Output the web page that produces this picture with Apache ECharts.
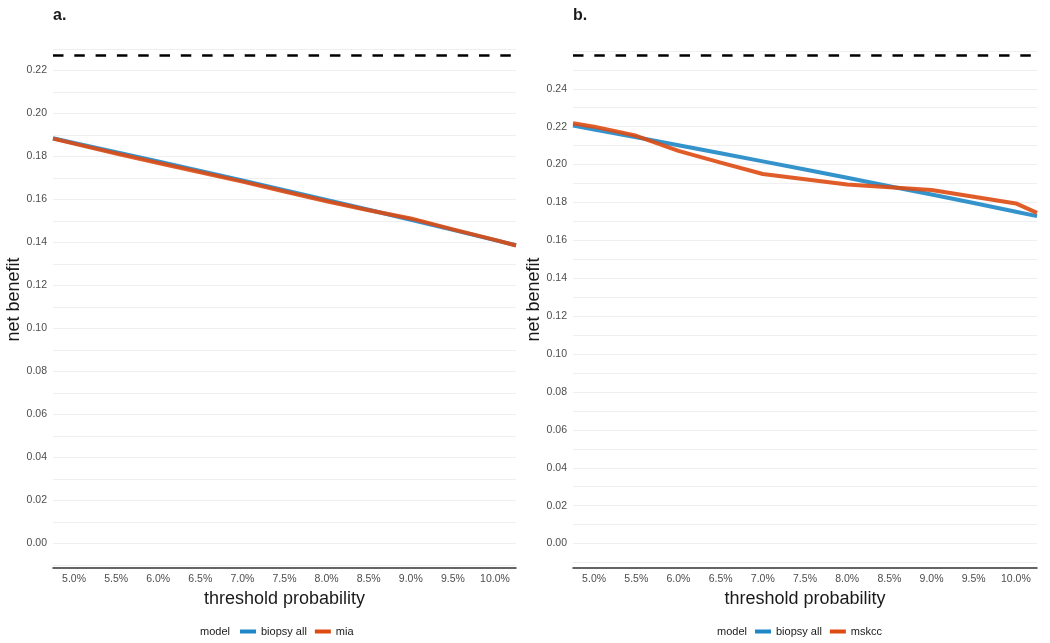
<!DOCTYPE html>
<html>
<head>
<meta charset="utf-8">
<script src="https://cdn.jsdelivr.net/npm/echarts@6/dist/echarts.min.js"></script>
<style>
html,body{margin:0;padding:0;background:#fff;}
#chart{width:1050px;height:643px;}
</style>
</head>
<body>
<div id="chart"></div>
<script>
// threshold probability (%)
const thresholds = [4.75, 5.0, 5.5, 6.0, 6.5, 7.0, 7.5, 8.0, 8.5, 9.0, 9.5, 10.0, 10.25];
// panel a
const biopsyAllA = [0.1885, 0.1863, 0.1820, 0.1777, 0.1733, 0.1688, 0.1643, 0.1598, 0.1552, 0.1506, 0.1459, 0.1411, 0.1387];
const miaA       = [0.1883, 0.1860, 0.1814, 0.1770, 0.1727, 0.1683, 0.1637, 0.1592, 0.1550, 0.1512, 0.1461, 0.1412, 0.1386];
const refLineA = 0.227;
// panel b
const biopsyAllB = [0.2206, 0.2185, 0.2144, 0.2102, 0.2060, 0.2017, 0.1974, 0.1930, 0.1886, 0.1842, 0.1797, 0.1751, 0.1728];
const mskccB     = [0.2218, 0.2200, 0.2152, 0.2072, 0.2010, 0.1950, 0.1923, 0.1895, 0.1880, 0.1866, 0.1830, 0.1795, 0.1745];
const refLineB = 0.2576;
// axis limits
const xRange = [4.75, 10.25];
const yRangeA = [-0.01135, 0.23835];
const yRangeB = [-0.01288, 0.27048];
// labelled tick range and gridline range
const yLabelMaxA = 0.22, yLabelMaxB = 0.24;
const gridLinesA = [-0.01, 0.23];
const gridLinesB = [-0.01, 0.26];
const panelTitles = ['a.', 'b.'];
const legendNamesA = ['biopsy all', 'mia'];
const legendNamesB = ['biopsy all', 'mskcc'];

const BLUE = '#1f87c6';
const ORANGE = '#dd4a12';

function pairs(xs, ys){ return xs.map((x,i)=>[x, ys[i]]); }
function isMult(v, step){ const r = v/step; return Math.abs(r - Math.round(r)) < 1e-6; }

const font = 'Liberation Sans, Arial, sans-serif';
const PLOT_TOP = 31, PLOT_H = 537;
const plotA = {left: 53, width: 463}, plotB = {left: 573, width: 464};

function subRect(plot, range, sub){
  const span = range[1] - range[0];
  const bottom = PLOT_TOP + PLOT_H;
  const yTop = bottom - (sub[1] - range[0]) / span * PLOT_H;
  const yBot = bottom - (sub[0] - range[0]) / span * PLOT_H;
  return {left: plot.left, width: plot.width, top: yTop, height: yBot - yTop};
}

function xAxisFor(gi){
  return {
    type:'value', gridIndex: gi, min: xRange[0], max: xRange[1],
    minInterval: 0.5, maxInterval: 0.5, splitNumber: 11,
    name: 'threshold probability', nameLocation: 'middle', nameGap: 10,
    nameTextStyle: {fontFamily: font, fontSize: 18, color: '#1a1a1a'},
    axisLine: {show: true, onZero: false, lineStyle: {color: '#333', width: 1.5}},
    axisTick: {show: false},
    splitLine: {show: false},
    axisLabel: {fontFamily: font, fontSize: 10.5, color: '#4d4d4d', margin: 6,
      formatter: v => isMult(v, 0.5) ? v.toFixed(1) + '%' : ''},
    z: 5
  };
}
function hiddenX(gi){
  return {type:'value', gridIndex: gi, min: xRange[0], max: xRange[1], show: false,
    splitLine: {show: false}, axisLine: {show: false}};
}
function yAxisFor(gi, range, labelMax){
  return {
    type:'value', gridIndex: gi, min: range[0], max: range[1],
    minInterval: 0.02, maxInterval: 0.02, splitNumber: 13,
    name: 'net benefit', nameLocation: 'middle', nameGap: 29,
    nameTextStyle: {fontFamily: font, fontSize: 18, color: '#1a1a1a'},
    axisLine: {show: false}, axisTick: {show: false},
    splitLine: {show: false},
    axisLabel: {fontFamily: font, fontSize: 10.5, color: '#4d4d4d', margin: 6,
      formatter: v => (isMult(v, 0.02) && v <= labelMax + 1e-9) ? v.toFixed(2) : ''}
  };
}
function gridY(gi, sub){
  return {
    type:'value', gridIndex: gi, min: sub[0], max: sub[1],
    minInterval: 0.01, maxInterval: 0.01, splitNumber: 30,
    axisLine: {show: false}, axisTick: {show: false}, axisLabel: {show: false},
    splitLine: {show: true, lineStyle: {color: '#efefef', width: 1}}
  };
}
function dashed(v){
  return {
    silent: true, symbol: ['none','none'], label: {show: false}, precision: 6,
    lineStyle: {color: '#000', width: 2.6, type: [10.5, 10.8]},
    emphasis: {disabled: true},
    data: [{yAxis: v}]
  };
}
function lineSeries(name, xi, yi, data, color, extra){
  return Object.assign({
    type: 'line', name: name, xAxisIndex: xi, yAxisIndex: yi,
    data: data, showSymbol: false, symbol: 'none', clip: true,
    lineStyle: {color: color, width: 4, opacity: 0.9, cap: 'butt', join: 'round'},
    itemStyle: {color: color},
    emphasis: {disabled: true}, animation: false, z: 3
  }, extra || {});
}

const chart = echarts.init(document.getElementById('chart'), null, {renderer: 'canvas'});
chart.setOption({
  backgroundColor: '#fff',
  animation: false,
  title: [
    {text: panelTitles[0], left: 53, top: 8, padding: 0, textStyle: {fontFamily: font, fontSize: 16, fontWeight: 'bold', color: '#1a1a1a'}},
    {text: panelTitles[1], left: 573, top: 8, padding: 0, textStyle: {fontFamily: font, fontSize: 16, fontWeight: 'bold', color: '#1a1a1a'}},
    {text: 'model', left: 200, top: 626, padding: 0, textStyle: {fontFamily: font, fontSize: 11, fontWeight: 'normal', color: '#1a1a1a'}},
    {text: 'model', left: 717, top: 626, padding: 0, textStyle: {fontFamily: font, fontSize: 11, fontWeight: 'normal', color: '#1a1a1a'}}
  ],
  legend: [
    {data: legendNamesA.map((n,i)=>({name: n, itemStyle: {color: i ? ORANGE : BLUE}})), left: 240, top: 626, padding: 0, itemGap: 8,
     icon: 'rect', itemWidth: 16, itemHeight: 4, selectedMode: false,
     textStyle: {fontFamily: font, fontSize: 11, color: '#1a1a1a'}},
    {data: legendNamesB.map((n,i)=>({name: n, itemStyle: {color: i ? ORANGE : BLUE}})), left: 755, top: 626, padding: 0, itemGap: 8,
     icon: 'rect', itemWidth: 16, itemHeight: 4, selectedMode: false,
     textStyle: {fontFamily: font, fontSize: 11, color: '#1a1a1a'}}
  ],
  grid: [
    Object.assign({top: PLOT_TOP, height: PLOT_H}, plotA),
    Object.assign({top: PLOT_TOP, height: PLOT_H}, plotB),
    subRect(plotA, yRangeA, gridLinesA),
    subRect(plotB, yRangeB, gridLinesB)
  ],
  xAxis: [xAxisFor(0), xAxisFor(1), hiddenX(2), hiddenX(3)],
  yAxis: [yAxisFor(0, yRangeA, yLabelMaxA), yAxisFor(1, yRangeB, yLabelMaxB), gridY(2, gridLinesA), gridY(3, gridLinesB)],
  series: [
    lineSeries('biopsy all', 0, 0, pairs(thresholds, biopsyAllA), BLUE, {markLine: dashed(refLineA)}),
    lineSeries('mia', 0, 0, pairs(thresholds, miaA), ORANGE),
    lineSeries('biopsy all', 1, 1, pairs(thresholds, biopsyAllB), BLUE, {markLine: dashed(refLineB)}),
    lineSeries('mskcc', 1, 1, pairs(thresholds, mskccB), ORANGE)
  ]
});
</script>
</body>
</html>
